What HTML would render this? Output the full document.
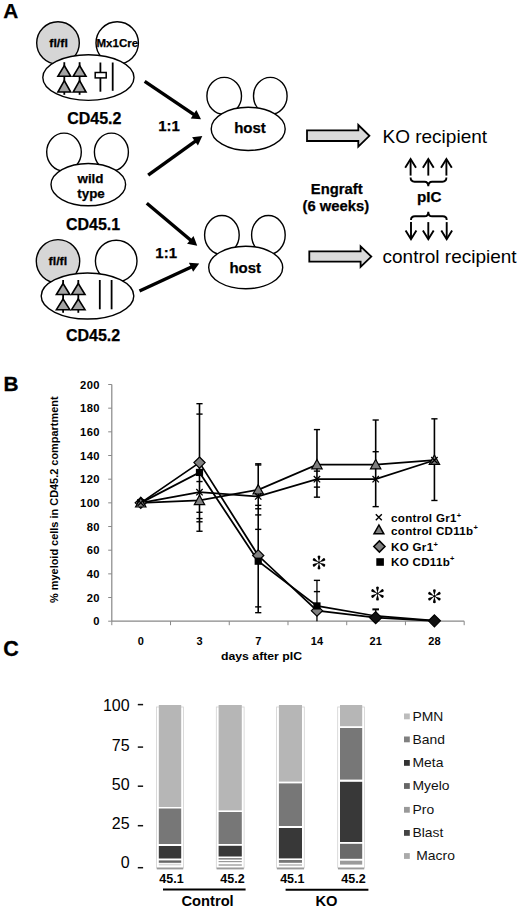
<!DOCTYPE html>
<html><head><meta charset="utf-8"><style>
html,body{margin:0;padding:0;background:#fff;}
body{width:520px;height:910px;overflow:hidden;}
svg{display:block;font-family:"Liberation Sans", sans-serif;}
.hv text[font-weight=bold]{stroke:#000;stroke-width:0.25px;}
</style></head><body>
<svg width="520" height="910" viewBox="0 0 520 910">
<rect width="520" height="910" fill="#fff"/>
<g class="hv">
<text x="3.3" y="17.6" font-size="20.8" font-weight="bold">A</text>
<circle cx="58" cy="43" r="21.3" fill="#d6d6d6" stroke="#000" stroke-width="1.4"/>
<circle cx="117.2" cy="43" r="21.2" fill="#fff" stroke="#000" stroke-width="1.4"/>
<ellipse cx="88.4" cy="77.6" rx="45.6" ry="22.8" fill="#fff" stroke="#000" stroke-width="1.4"/>
<text transform="translate(58.6,47.1) scale(1.08,1)" font-size="11.5" font-weight="bold" text-anchor="middle">fl/fl</text>
<text x="117.3" y="47" font-size="11.5" font-weight="bold" text-anchor="middle">Mx1Cre</text>
<line x1="64.3" y1="62.2" x2="64.3" y2="94.8" stroke="#000" stroke-width="1.8"/><polygon points="64.3,65.6 57.9,76.3 70.7,76.3" fill="#a4a4a4" stroke="#000" stroke-width="1.6" stroke-linejoin="miter"/><polygon points="64.3,80.6 57.9,92.0 70.7,92.0" fill="#a4a4a4" stroke="#000" stroke-width="1.6" stroke-linejoin="miter"/>
<line x1="79.6" y1="62.2" x2="79.6" y2="94.8" stroke="#000" stroke-width="1.8"/><polygon points="79.6,65.6 73.19999999999999,76.3 86.0,76.3" fill="#a4a4a4" stroke="#000" stroke-width="1.6" stroke-linejoin="miter"/><polygon points="79.6,80.6 73.19999999999999,92.0 86.0,92.0" fill="#a4a4a4" stroke="#000" stroke-width="1.6" stroke-linejoin="miter"/>
<line x1="100.4" y1="62.5" x2="100.4" y2="91.7" stroke="#000" stroke-width="1.8"/>
<rect x="95.2" y="72.5" width="11" height="5.4" fill="#fff" stroke="#000" stroke-width="1.5"/>
<line x1="112.7" y1="62.5" x2="112.7" y2="90.8" stroke="#000" stroke-width="1.8"/>
<text x="94.3" y="124" font-size="16" font-weight="bold" text-anchor="middle">CD45.2</text>
<ellipse cx="64" cy="152.1" rx="17.3" ry="19" fill="#fff" stroke="#000" stroke-width="1.4"/>
<ellipse cx="111.4" cy="152.1" rx="17" ry="19" fill="#fff" stroke="#000" stroke-width="1.4"/>
<ellipse cx="88.3" cy="184.6" rx="37.3" ry="21.1" fill="#fff" stroke="#000" stroke-width="1.4"/>
<text x="90.5" y="182.8" font-size="13.4" font-weight="bold" text-anchor="middle">wild</text>
<text x="91" y="198.3" font-size="13.4" font-weight="bold" text-anchor="middle">type</text>
<text x="93" y="229.6" font-size="16" font-weight="bold" text-anchor="middle">CD45.1</text>
<circle cx="58" cy="261.3" r="21.7" fill="#d6d6d6" stroke="#000" stroke-width="1.4"/>
<circle cx="116.2" cy="261" r="20.8" fill="#fff" stroke="#000" stroke-width="1.4"/>
<ellipse cx="87.5" cy="296" rx="46.3" ry="23" fill="#fff" stroke="#000" stroke-width="1.4"/>
<text transform="translate(57.9,264.7) scale(1.08,1)" font-size="11.5" font-weight="bold" text-anchor="middle">fl/fl</text>
<line x1="63.1" y1="280" x2="63.1" y2="312.8" stroke="#000" stroke-width="1.8"/><polygon points="63.1,283.5 56.4,294.5 69.8,294.5" fill="#a4a4a4" stroke="#000" stroke-width="1.6" stroke-linejoin="miter"/><polygon points="63.1,299 56.4,309.7 69.8,309.7" fill="#a4a4a4" stroke="#000" stroke-width="1.6" stroke-linejoin="miter"/>
<line x1="78.3" y1="280" x2="78.3" y2="312.8" stroke="#000" stroke-width="1.8"/><polygon points="78.3,283.5 71.6,294.5 85.0,294.5" fill="#a4a4a4" stroke="#000" stroke-width="1.6" stroke-linejoin="miter"/><polygon points="78.3,299 71.6,309.7 85.0,309.7" fill="#a4a4a4" stroke="#000" stroke-width="1.6" stroke-linejoin="miter"/>
<line x1="99.8" y1="280" x2="99.8" y2="309.3" stroke="#000" stroke-width="1.8"/>
<line x1="111.6" y1="280" x2="111.6" y2="309.3" stroke="#000" stroke-width="1.8"/>
<text x="93" y="341" font-size="16" font-weight="bold" text-anchor="middle">CD45.2</text>
<ellipse cx="224.2" cy="95.9" rx="17.3" ry="18.5" fill="#fff" stroke="#000" stroke-width="1.4"/><ellipse cx="270.3" cy="95.9" rx="16.8" ry="18.5" fill="#fff" stroke="#000" stroke-width="1.4"/><ellipse cx="248.2" cy="128.9" rx="37" ry="21.6" fill="#fff" stroke="#000" stroke-width="1.4"/><text x="250.0" y="133.2" font-size="15" font-weight="bold" text-anchor="middle">host</text>
<ellipse cx="221.9" cy="235.0" rx="17.3" ry="19.5" fill="#fff" stroke="#000" stroke-width="1.4"/><ellipse cx="268.4" cy="235.0" rx="16.8" ry="19.5" fill="#fff" stroke="#000" stroke-width="1.4"/><ellipse cx="245.7" cy="267.5" rx="37" ry="21.2" fill="#fff" stroke="#000" stroke-width="1.4"/><text x="245.3" y="273.3" font-size="15" font-weight="bold" text-anchor="middle">host</text>
<line x1="144.7" y1="81.3" x2="194.37" y2="114.82" stroke="#000" stroke-width="3.4"/><polygon points="201.00,119.30 190.74,118.41 196.34,110.12" fill="#000"/>
<line x1="148.2" y1="175.2" x2="195.82" y2="140.79" stroke="#000" stroke-width="3.4"/><polygon points="202.30,136.10 197.93,145.42 192.08,137.32" fill="#000"/>
<line x1="146.8" y1="203.3" x2="191.08" y2="240.55" stroke="#000" stroke-width="3.4"/><polygon points="197.20,245.70 187.09,243.73 193.53,236.08" fill="#000"/>
<line x1="139.5" y1="291" x2="191.94" y2="266.76" stroke="#000" stroke-width="3.4"/><polygon points="199.20,263.40 193.13,271.72 188.93,262.64" fill="#000"/>
<text x="169" y="131.4" font-size="15" font-weight="bold" text-anchor="middle">1:1</text>
<text x="166.2" y="258.2" font-size="15" font-weight="bold" text-anchor="middle">1:1</text>
<polygon points="307.0,130.3 358.3,130.3 358.3,125.0 369.4,135.8 358.3,146.6 358.3,141.0 307.0,141.0" fill="#dadada" stroke="#000" stroke-width="1.8" stroke-linejoin="miter"/>
<polygon points="309.3,251.3 360.6,251.3 360.6,246.4 371.3,256.6 360.6,266.8 360.6,261.6 309.3,261.6" fill="#dadada" stroke="#000" stroke-width="1.8" stroke-linejoin="miter"/>
<text x="382.5" y="143" font-size="19">KO recipient</text>
<text x="382.5" y="262.7" font-size="19">control recipient</text>
<text x="336.7" y="193.5" font-size="14.8" font-weight="bold" text-anchor="middle">Engraft</text>
<text x="335.8" y="211.3" font-size="14.8" font-weight="bold" text-anchor="middle">(6 weeks)</text>
<text x="429.2" y="201.9" font-size="15.2" font-weight="bold" text-anchor="middle">pIC</text>
<line x1="410.6" y1="159.8" x2="410.6" y2="175.6" stroke="#000" stroke-width="1.9"/><polyline points="405.20000000000005,167.8 410.6,159.0 416.0,167.8" fill="none" stroke="#000" stroke-width="1.9" stroke-linejoin="miter"/>
<line x1="428.3" y1="159.8" x2="428.3" y2="175.6" stroke="#000" stroke-width="1.9"/><polyline points="422.90000000000003,167.8 428.3,159.0 433.7,167.8" fill="none" stroke="#000" stroke-width="1.9" stroke-linejoin="miter"/>
<line x1="446.4" y1="159.8" x2="446.4" y2="175.6" stroke="#000" stroke-width="1.9"/><polyline points="441.0,167.8 446.4,159.0 451.79999999999995,167.8" fill="none" stroke="#000" stroke-width="1.9" stroke-linejoin="miter"/>
<path d="M410.6,177.6 Q410.6,181.7 414.6,181.7 L424.5,181.7 Q428.3,181.7 428.3,186.3 Q428.3,181.7 432.1,181.7 L442.4,181.7 Q446.4,181.7 446.4,177.6" fill="none" stroke="#000" stroke-width="1.9"/>
<line x1="411.0" y1="222.1" x2="411.0" y2="238.5" stroke="#000" stroke-width="1.9"/><polyline points="405.6,230.5 411.0,239.3 416.4,230.5" fill="none" stroke="#000" stroke-width="1.9" stroke-linejoin="miter"/>
<line x1="428.3" y1="222.1" x2="428.3" y2="238.5" stroke="#000" stroke-width="1.9"/><polyline points="422.90000000000003,230.5 428.3,239.3 433.7,230.5" fill="none" stroke="#000" stroke-width="1.9" stroke-linejoin="miter"/>
<line x1="446.7" y1="222.1" x2="446.7" y2="238.5" stroke="#000" stroke-width="1.9"/><polyline points="441.3,230.5 446.7,239.3 452.09999999999997,230.5" fill="none" stroke="#000" stroke-width="1.9" stroke-linejoin="miter"/>
<path d="M411,220 Q411,216.3 415,216.3 L424.5,216.3 Q428.3,216.3 428.3,211.7 Q428.3,216.3 432.1,216.3 L442.7,216.3 Q446.7,216.3 446.7,220" fill="none" stroke="#000" stroke-width="1.9"/>
</g>
<text x="3.6" y="390.9" font-size="20.8" font-weight="bold" stroke="#000" stroke-width="0.3">B</text>
<line x1="111.8" y1="384.50000000000006" x2="111.8" y2="621.2" stroke="#888" stroke-width="1.2"/>
<line x1="111.8" y1="621.2" x2="464.2" y2="621.2" stroke="#888" stroke-width="1.2"/>
<line x1="108.2" y1="621.20" x2="111.8" y2="621.20" stroke="#888" stroke-width="1"/>
<text x="99.8" y="625.40" font-size="11.2" font-weight="bold" letter-spacing="0.35" text-anchor="end">0</text>
<line x1="108.2" y1="597.53" x2="111.8" y2="597.53" stroke="#888" stroke-width="1"/>
<text x="99.8" y="601.73" font-size="11.2" font-weight="bold" letter-spacing="0.35" text-anchor="end">20</text>
<line x1="108.2" y1="573.86" x2="111.8" y2="573.86" stroke="#888" stroke-width="1"/>
<text x="99.8" y="578.06" font-size="11.2" font-weight="bold" letter-spacing="0.35" text-anchor="end">40</text>
<line x1="108.2" y1="550.19" x2="111.8" y2="550.19" stroke="#888" stroke-width="1"/>
<text x="99.8" y="554.39" font-size="11.2" font-weight="bold" letter-spacing="0.35" text-anchor="end">60</text>
<line x1="108.2" y1="526.52" x2="111.8" y2="526.52" stroke="#888" stroke-width="1"/>
<text x="99.8" y="530.72" font-size="11.2" font-weight="bold" letter-spacing="0.35" text-anchor="end">80</text>
<line x1="108.2" y1="502.85" x2="111.8" y2="502.85" stroke="#888" stroke-width="1"/>
<text x="99.8" y="507.05" font-size="11.2" font-weight="bold" letter-spacing="0.35" text-anchor="end">100</text>
<line x1="108.2" y1="479.18" x2="111.8" y2="479.18" stroke="#888" stroke-width="1"/>
<text x="99.8" y="483.38" font-size="11.2" font-weight="bold" letter-spacing="0.35" text-anchor="end">120</text>
<line x1="108.2" y1="455.51" x2="111.8" y2="455.51" stroke="#888" stroke-width="1"/>
<text x="99.8" y="459.71" font-size="11.2" font-weight="bold" letter-spacing="0.35" text-anchor="end">140</text>
<line x1="108.2" y1="431.84" x2="111.8" y2="431.84" stroke="#888" stroke-width="1"/>
<text x="99.8" y="436.04" font-size="11.2" font-weight="bold" letter-spacing="0.35" text-anchor="end">160</text>
<line x1="108.2" y1="408.17" x2="111.8" y2="408.17" stroke="#888" stroke-width="1"/>
<text x="99.8" y="412.37" font-size="11.2" font-weight="bold" letter-spacing="0.35" text-anchor="end">180</text>
<line x1="108.2" y1="384.50" x2="111.8" y2="384.50" stroke="#888" stroke-width="1"/>
<text x="99.8" y="388.70" font-size="11.2" font-weight="bold" letter-spacing="0.35" text-anchor="end">200</text>
<line x1="111.80" y1="621.2" x2="111.80" y2="625.2" stroke="#888" stroke-width="1"/>
<line x1="170.53" y1="621.2" x2="170.53" y2="625.2" stroke="#888" stroke-width="1"/>
<line x1="229.26" y1="621.2" x2="229.26" y2="625.2" stroke="#888" stroke-width="1"/>
<line x1="287.99" y1="621.2" x2="287.99" y2="625.2" stroke="#888" stroke-width="1"/>
<line x1="346.72" y1="621.2" x2="346.72" y2="625.2" stroke="#888" stroke-width="1"/>
<line x1="405.45" y1="621.2" x2="405.45" y2="625.2" stroke="#888" stroke-width="1"/>
<line x1="464.18" y1="621.2" x2="464.18" y2="625.2" stroke="#888" stroke-width="1"/>
<text x="140.76" y="644.5" font-size="11" font-weight="bold" text-anchor="middle">0</text>
<text x="199.49" y="644.5" font-size="11" font-weight="bold" text-anchor="middle">3</text>
<text x="258.23" y="644.5" font-size="11" font-weight="bold" text-anchor="middle">7</text>
<text x="316.95" y="644.5" font-size="11" font-weight="bold" text-anchor="middle">14</text>
<text x="375.69" y="644.5" font-size="11" font-weight="bold" text-anchor="middle">21</text>
<text x="434.42" y="644.5" font-size="11" font-weight="bold" text-anchor="middle">28</text>
<text transform="translate(261.5,659.7) scale(1.04,1)" font-size="11.8" font-weight="bold" text-anchor="middle">days after pIC</text>
<text transform="translate(58.2,499.7) rotate(-90)" x="0" y="0" font-size="10.95" font-weight="bold" text-anchor="middle">% myeloid cells in CD45.2 compartment</text>
<line x1="199.49" y1="403.67" x2="199.49" y2="531.25" stroke="#000" stroke-width="1.6"/>
<line x1="196.39" y1="403.67" x2="202.59" y2="403.67" stroke="#000" stroke-width="1.4"/>
<line x1="196.39" y1="414.09" x2="202.59" y2="414.09" stroke="#000" stroke-width="1.4"/>
<line x1="196.39" y1="481.55" x2="202.59" y2="481.55" stroke="#000" stroke-width="1.4"/>
<line x1="196.39" y1="512.32" x2="202.59" y2="512.32" stroke="#000" stroke-width="1.4"/>
<line x1="196.39" y1="518.59" x2="202.59" y2="518.59" stroke="#000" stroke-width="1.4"/>
<line x1="196.39" y1="521.79" x2="202.59" y2="521.79" stroke="#000" stroke-width="1.4"/>
<line x1="196.39" y1="531.25" x2="202.59" y2="531.25" stroke="#000" stroke-width="1.4"/>
<line x1="258.23" y1="463.79" x2="258.23" y2="612.68" stroke="#000" stroke-width="1.6"/>
<line x1="255.13" y1="463.79" x2="261.33" y2="463.79" stroke="#000" stroke-width="1.4"/>
<line x1="255.13" y1="464.98" x2="261.33" y2="464.98" stroke="#000" stroke-width="1.4"/>
<line x1="255.13" y1="505.34" x2="261.33" y2="505.34" stroke="#000" stroke-width="1.4"/>
<line x1="255.13" y1="508.77" x2="261.33" y2="508.77" stroke="#000" stroke-width="1.4"/>
<line x1="255.13" y1="514.92" x2="261.33" y2="514.92" stroke="#000" stroke-width="1.4"/>
<line x1="255.13" y1="529.36" x2="261.33" y2="529.36" stroke="#000" stroke-width="1.4"/>
<line x1="255.13" y1="606.88" x2="261.33" y2="606.88" stroke="#000" stroke-width="1.4"/>
<line x1="255.13" y1="612.68" x2="261.33" y2="612.68" stroke="#000" stroke-width="1.4"/>
<line x1="316.95" y1="429.59" x2="316.95" y2="497.17" stroke="#000" stroke-width="1.6"/>
<line x1="313.85" y1="429.59" x2="320.06" y2="429.59" stroke="#000" stroke-width="1.4"/>
<line x1="313.85" y1="471.13" x2="320.06" y2="471.13" stroke="#000" stroke-width="1.4"/>
<line x1="313.85" y1="487.11" x2="320.06" y2="487.11" stroke="#000" stroke-width="1.4"/>
<line x1="313.85" y1="497.17" x2="320.06" y2="497.17" stroke="#000" stroke-width="1.4"/>
<line x1="375.69" y1="420.01" x2="375.69" y2="506.64" stroke="#000" stroke-width="1.6"/>
<line x1="372.58" y1="420.01" x2="378.79" y2="420.01" stroke="#000" stroke-width="1.4"/>
<line x1="372.58" y1="451.72" x2="378.79" y2="451.72" stroke="#000" stroke-width="1.4"/>
<line x1="372.58" y1="506.64" x2="378.79" y2="506.64" stroke="#000" stroke-width="1.4"/>
<line x1="434.42" y1="418.82" x2="434.42" y2="500.48" stroke="#000" stroke-width="1.6"/>
<line x1="431.31" y1="418.82" x2="437.52" y2="418.82" stroke="#000" stroke-width="1.4"/>
<line x1="431.31" y1="500.48" x2="437.52" y2="500.48" stroke="#000" stroke-width="1.4"/>
<line x1="316.95" y1="580.37" x2="316.95" y2="621.20" stroke="#000" stroke-width="1.3"/>
<line x1="313.85" y1="580.37" x2="320.06" y2="580.37" stroke="#000" stroke-width="1.4"/>
<line x1="313.85" y1="591.61" x2="320.06" y2="591.61" stroke="#000" stroke-width="1.4"/>
<line x1="375.69" y1="609.37" x2="375.69" y2="621.20" stroke="#000" stroke-width="1.3"/>
<line x1="372.38" y1="609.37" x2="378.99" y2="609.37" stroke="#000" stroke-width="2"/>
<polyline points="140.76,502.85 199.49,492.20 258.23,496.46 316.95,479.18 375.69,479.18 434.42,460.24" fill="none" stroke="#000" stroke-width="1.75"/>
<polyline points="140.76,502.85 199.49,500.48 258.23,489.83 316.95,464.62 375.69,464.62 434.42,460.24" fill="none" stroke="#000" stroke-width="1.75"/>
<polyline points="140.76,502.85 199.49,462.61 258.23,555.52 316.95,610.67 375.69,617.65 434.42,620.84" fill="none" stroke="#000" stroke-width="1.75"/>
<polyline points="140.76,502.85 199.49,472.43 258.23,561.20 316.95,605.93 375.69,615.99 434.42,620.61" fill="none" stroke="#000" stroke-width="1.75"/>
<polygon points="140.76,497.25 146.36,502.85 140.76,508.45 135.16,502.85" fill="#808080" stroke="#000" stroke-width="1.2"/>
<polygon points="199.49,457.01 205.09,462.61 199.49,468.21 193.89,462.61" fill="#808080" stroke="#000" stroke-width="1.2"/>
<polygon points="258.23,549.92 263.83,555.52 258.23,561.12 252.63,555.52" fill="#808080" stroke="#000" stroke-width="1.2"/>
<polygon points="316.95,605.07 322.56,610.67 316.95,616.27 311.35,610.67" fill="#808080" stroke="#000" stroke-width="1.2"/>
<rect x="137.16" y="499.25" width="7.20" height="7.20" fill="#000"/>
<rect x="195.89" y="468.83" width="7.20" height="7.20" fill="#000"/>
<rect x="254.63" y="557.60" width="7.20" height="7.20" fill="#000"/>
<rect x="313.35" y="602.33" width="7.20" height="7.20" fill="#000"/>
<polygon points="375.69,611.65 381.69,617.65 375.69,623.65 369.69,617.65" fill="#111" stroke="#000" stroke-width="1.2"/>
<polygon points="434.42,614.84 440.42,620.84 434.42,626.84 428.42,620.84" fill="#111" stroke="#000" stroke-width="1.2"/>
<polygon points="140.76,497.65 135.56,507.01 145.96,507.01" fill="#7f7f7f" stroke="#000" stroke-width="1.2"/>
<polygon points="199.49,495.28 194.29,504.64 204.69,504.64" fill="#7f7f7f" stroke="#000" stroke-width="1.2"/>
<polygon points="258.23,484.63 253.03,493.99 263.43,493.99" fill="#7f7f7f" stroke="#000" stroke-width="1.2"/>
<polygon points="316.95,459.42 311.75,468.78 322.15,468.78" fill="#7f7f7f" stroke="#000" stroke-width="1.2"/>
<polygon points="375.69,459.42 370.49,468.78 380.88,468.78" fill="#7f7f7f" stroke="#000" stroke-width="1.2"/>
<polygon points="434.42,455.04 429.22,464.40 439.62,464.40" fill="#7f7f7f" stroke="#000" stroke-width="1.2"/>
<path d="M137.56,499.65L143.96,506.05M137.56,506.05L143.96,499.65" stroke="#000" stroke-width="1.3"/>
<path d="M196.29,489.00L202.69,495.40M196.29,495.40L202.69,489.00" stroke="#000" stroke-width="1.3"/>
<path d="M255.03,493.26L261.43,499.66M255.03,499.66L261.43,493.26" stroke="#000" stroke-width="1.3"/>
<path d="M313.75,475.98L320.15,482.38M313.75,482.38L320.15,475.98" stroke="#000" stroke-width="1.3"/>
<path d="M372.49,475.98L378.88,482.38M372.49,482.38L378.88,475.98" stroke="#000" stroke-width="1.3"/>
<path d="M431.22,457.04L437.62,463.44M431.22,463.44L437.62,457.04" stroke="#000" stroke-width="1.3"/>
<g transform="translate(319.0,562.4)" fill="#000"><path d="M0,-0.5 L-1.3,-5.15 A1.38,1.38 0 1 1 1.3,-5.15 Z" transform="rotate(0)"/><path d="M0,-0.5 L-1.3,-5.15 A1.38,1.38 0 1 1 1.3,-5.15 Z" transform="rotate(60)"/><path d="M0,-0.5 L-1.3,-5.15 A1.38,1.38 0 1 1 1.3,-5.15 Z" transform="rotate(120)"/><path d="M0,-0.5 L-1.3,-5.15 A1.38,1.38 0 1 1 1.3,-5.15 Z" transform="rotate(180)"/><path d="M0,-0.5 L-1.3,-5.15 A1.38,1.38 0 1 1 1.3,-5.15 Z" transform="rotate(240)"/><path d="M0,-0.5 L-1.3,-5.15 A1.38,1.38 0 1 1 1.3,-5.15 Z" transform="rotate(300)"/><circle r="1.2"/></g>
<g transform="translate(377.5,593.5)" fill="#000"><path d="M0,-0.5 L-1.3,-5.15 A1.38,1.38 0 1 1 1.3,-5.15 Z" transform="rotate(0)"/><path d="M0,-0.5 L-1.3,-5.15 A1.38,1.38 0 1 1 1.3,-5.15 Z" transform="rotate(60)"/><path d="M0,-0.5 L-1.3,-5.15 A1.38,1.38 0 1 1 1.3,-5.15 Z" transform="rotate(120)"/><path d="M0,-0.5 L-1.3,-5.15 A1.38,1.38 0 1 1 1.3,-5.15 Z" transform="rotate(180)"/><path d="M0,-0.5 L-1.3,-5.15 A1.38,1.38 0 1 1 1.3,-5.15 Z" transform="rotate(240)"/><path d="M0,-0.5 L-1.3,-5.15 A1.38,1.38 0 1 1 1.3,-5.15 Z" transform="rotate(300)"/><circle r="1.2"/></g>
<g transform="translate(434.4,596.2)" fill="#000"><path d="M0,-0.5 L-1.3,-5.15 A1.38,1.38 0 1 1 1.3,-5.15 Z" transform="rotate(0)"/><path d="M0,-0.5 L-1.3,-5.15 A1.38,1.38 0 1 1 1.3,-5.15 Z" transform="rotate(60)"/><path d="M0,-0.5 L-1.3,-5.15 A1.38,1.38 0 1 1 1.3,-5.15 Z" transform="rotate(120)"/><path d="M0,-0.5 L-1.3,-5.15 A1.38,1.38 0 1 1 1.3,-5.15 Z" transform="rotate(180)"/><path d="M0,-0.5 L-1.3,-5.15 A1.38,1.38 0 1 1 1.3,-5.15 Z" transform="rotate(240)"/><path d="M0,-0.5 L-1.3,-5.15 A1.38,1.38 0 1 1 1.3,-5.15 Z" transform="rotate(300)"/><circle r="1.2"/></g>
<path d="M375.80,514.20L381.80,520.20M375.80,520.20L381.80,514.20" stroke="#000" stroke-width="1.4"/>
<polygon points="378.90,525.00 374.00,533.82 383.80,533.82" fill="#7f7f7f" stroke="#000" stroke-width="1.5"/>
<polygon points="379.40,540.90 385.00,546.50 379.40,552.10 373.80,546.50" fill="#808080" stroke="#000" stroke-width="1.5"/>
<rect x="376.30" y="558.20" width="7.60" height="7.60" fill="#000"/>
<text x="391" y="522.4" font-size="11.6" font-weight="bold" letter-spacing="0.3">control Gr1<tspan font-size="7.5" dy="-4.5">+</tspan></text>
<text x="391" y="534.8" font-size="11.6" font-weight="bold" letter-spacing="0.3">control CD11b<tspan font-size="7.5" dy="-4.5">+</tspan></text>
<text x="391" y="551.3" font-size="11.6" font-weight="bold" letter-spacing="0.3">KO Gr1<tspan font-size="7.5" dy="-4.5">+</tspan></text>
<text x="391" y="565.6" font-size="11.6" font-weight="bold" letter-spacing="0.3">KO CD11b<tspan font-size="7.5" dy="-4.5">+</tspan></text>
<text x="3.2" y="656.4" font-size="21.5" font-weight="bold" stroke="#000" stroke-width="0.3">C</text>
<text x="129.6" y="711.3" font-size="16" text-anchor="end">100</text>
<line x1="137.8" y1="704.6" x2="143.1" y2="704.6" stroke="#111" stroke-width="1.5"/>
<text x="129.6" y="750.6" font-size="16" text-anchor="end">75</text>
<line x1="137.8" y1="747.1" x2="143.1" y2="747.1" stroke="#111" stroke-width="1.5"/>
<text x="129.6" y="789.8" font-size="16" text-anchor="end">50</text>
<line x1="137.8" y1="786.2" x2="143.1" y2="786.2" stroke="#111" stroke-width="1.5"/>
<text x="129.6" y="829" font-size="16" text-anchor="end">25</text>
<line x1="137.8" y1="825.7" x2="143.1" y2="825.7" stroke="#111" stroke-width="1.5"/>
<text x="129.6" y="868.3" font-size="16" text-anchor="end">0</text>
<line x1="137.8" y1="867.7" x2="143.1" y2="867.7" stroke="#111" stroke-width="1.5"/>
<rect x="156.5" y="707" width="26.99999999999998" height="161" fill="none" stroke="#d2d2d2" stroke-width="0.8"/><rect x="156.8" y="867.6" width="26.399999999999977" height="1.8" fill="#9a9a9a"/><rect x="158.8" y="705" width="22.399999999999977" height="102" fill="#b6b6b6"/><rect x="158.8" y="808.5" width="22.399999999999977" height="35.5" fill="#777777"/><rect x="158.8" y="846" width="22.399999999999977" height="12.5" fill="#383838"/><rect x="158.8" y="860.4" width="22.399999999999977" height="2.3999999999999773" fill="#666666"/><rect x="158.8" y="863.8" width="22.399999999999977" height="1.6000000000000227" fill="#d8d8d8"/>
<rect x="216.29999999999998" y="707" width="27.80000000000002" height="161" fill="none" stroke="#d2d2d2" stroke-width="0.8"/><rect x="216.6" y="867.6" width="27.200000000000017" height="1.8" fill="#9a9a9a"/><rect x="218.6" y="705" width="23.200000000000017" height="105.39999999999998" fill="#b6b6b6"/><rect x="218.6" y="812" width="23.200000000000017" height="32" fill="#777777"/><rect x="218.6" y="845.8" width="23.200000000000017" height="10.700000000000045" fill="#383838"/><rect x="218.6" y="858" width="23.200000000000017" height="1.6000000000000227" fill="#888"/><rect x="218.6" y="861" width="23.200000000000017" height="1.2000000000000455" fill="#999"/><rect x="218.6" y="864" width="23.200000000000017" height="2" fill="#bbb"/>
<rect x="276.59999999999997" y="707" width="27.700000000000024" height="161" fill="none" stroke="#d2d2d2" stroke-width="0.8"/><rect x="276.9" y="867.6" width="27.100000000000023" height="1.8" fill="#9a9a9a"/><rect x="278.9" y="705" width="23.100000000000023" height="76.60000000000002" fill="#b6b6b6"/><rect x="278.9" y="783.4" width="23.100000000000023" height="42.60000000000002" fill="#777777"/><rect x="278.9" y="828" width="23.100000000000023" height="30.399999999999977" fill="#383838"/><rect x="278.9" y="860" width="23.100000000000023" height="2.7999999999999545" fill="#777"/><rect x="278.9" y="864" width="23.100000000000023" height="2" fill="#c8c8c8"/>
<rect x="337.7" y="707" width="26.79999999999999" height="161" fill="none" stroke="#d2d2d2" stroke-width="0.8"/><rect x="338.0" y="867.6" width="26.19999999999999" height="1.8" fill="#9a9a9a"/><rect x="340.0" y="705" width="22.19999999999999" height="21.200000000000045" fill="#b6b6b6"/><rect x="340.0" y="728" width="22.19999999999999" height="51.60000000000002" fill="#777777"/><rect x="340.0" y="781.8" width="22.19999999999999" height="60.200000000000045" fill="#383838"/><rect x="340.0" y="843.8" width="22.19999999999999" height="15.0" fill="#6a6a6a"/><rect x="340.0" y="860.7" width="22.19999999999999" height="3.8999999999999773" fill="#9a9a9a"/>
<text x="171.5" y="883.1" font-size="12.5" font-weight="bold" text-anchor="middle">45.1</text>
<text x="232.5" y="883.1" font-size="12.5" font-weight="bold" text-anchor="middle">45.2</text>
<text x="292.3" y="883.1" font-size="12.5" font-weight="bold" text-anchor="middle">45.1</text>
<text x="353.5" y="883.1" font-size="12.5" font-weight="bold" text-anchor="middle">45.2</text>
<line x1="163" y1="889.5" x2="245.6" y2="889.5" stroke="#000" stroke-width="2"/>
<line x1="285.6" y1="889.7" x2="368.4" y2="889.7" stroke="#000" stroke-width="2"/>
<text x="207.6" y="905.6" font-size="14.7" font-weight="bold" text-anchor="middle">Control</text>
<text x="326.4" y="905.8" font-size="14.7" font-weight="bold" text-anchor="middle">KO</text>
<rect x="404" y="713.5" width="5.8" height="5.8" fill="#bcbcbc"/>
<text transform="translate(412.5,720.8) scale(1.12,1)" font-size="12.4" fill="#111">PMN</text>
<rect x="404" y="736.5" width="5.8" height="5.8" fill="#808080"/>
<text transform="translate(412.5,743.8) scale(1.12,1)" font-size="12.4" fill="#111">Band</text>
<rect x="404" y="760.0" width="5.8" height="5.8" fill="#333333"/>
<text transform="translate(412.5,767.3) scale(1.12,1)" font-size="12.4" fill="#111">Meta</text>
<rect x="404" y="783.1" width="5.8" height="5.8" fill="#666666"/>
<text transform="translate(412.5,790.4) scale(1.12,1)" font-size="12.4" fill="#111">Myelo</text>
<rect x="404" y="806.9000000000001" width="5.8" height="5.8" fill="#999999"/>
<text transform="translate(412.5,814.2) scale(1.12,1)" font-size="12.4" fill="#111">Pro</text>
<rect x="404" y="830.0" width="5.8" height="5.8" fill="#444444"/>
<text transform="translate(412.5,837.3) scale(1.12,1)" font-size="12.4" fill="#111">Blast</text>
<rect x="404" y="853.1" width="5.8" height="5.8" fill="#aaaaaa"/>
<text transform="translate(416.3,860.4) scale(1.12,1)" font-size="12.4" fill="#111">Macro</text>
</svg>
</body></html>
